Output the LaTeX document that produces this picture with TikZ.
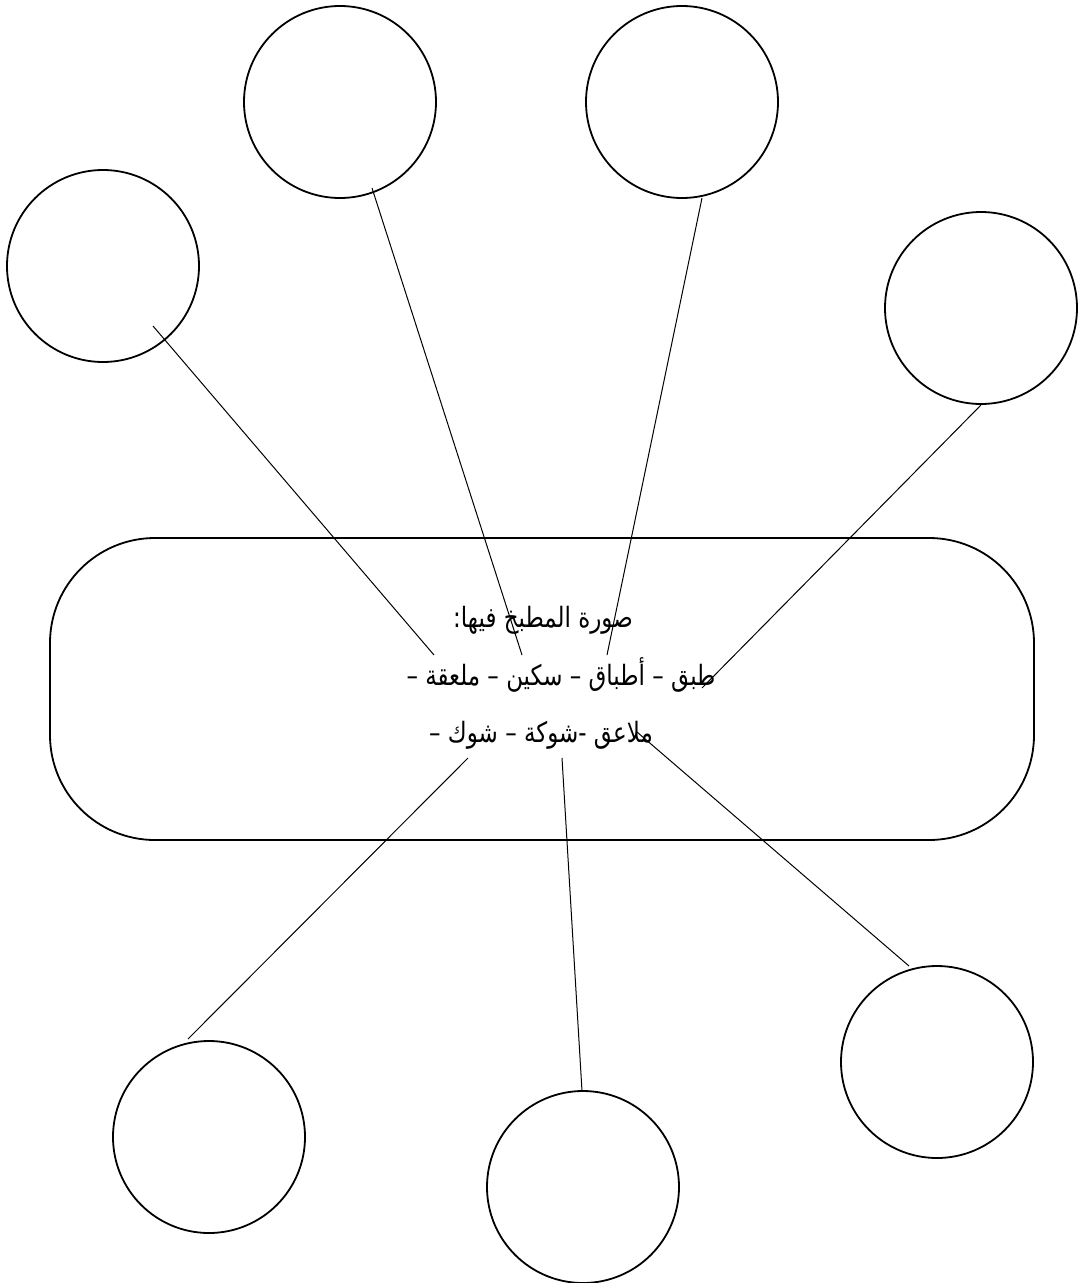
\documentclass[tikz,border=0pt]{standalone}
\usepackage{fontspec}
\usepackage{graphicx}
\TeXXeTstate=1
\newfontfamily\arabicfont[Script=Arabic]{DejaVu Sans}
\newcommand{\artext}[1]{\scalebox{0.82}[1]{\arabicfont\fontsize{28}{32}\selectfont\beginR #1\endR}}
\begin{document}
\begin{tikzpicture}[x=1pt,y=-1pt,
  bubble/.style={circle,draw,line width=1.8pt,minimum size=192pt,inner sep=0pt},
  link/.style={line width=1pt},
  txt/.style={anchor=base,inner sep=0pt}]
\useasboundingbox (0,0) rectangle (1081,1283);
\node[draw,line width=1.8pt,rounded corners=105pt,minimum width=984pt,minimum height=302pt,inner sep=0pt] (box) at (542,689) {};
\node[bubble] (c1) at (103,266) {};
\node[bubble] (c2) at (340,102) {};
\node[bubble] (c3) at (682,102) {};
\node[bubble] (c4) at (981,308) {};
\node[bubble] (c5) at (209,1137) {};
\node[bubble] (c6) at (583,1187) {};
\node[bubble] (c7) at (937,1062) {};
\node[txt] (t1) at (543,627) {\artext{صورة المطبخ فيها:}};
\node[txt] (t2) at (561,685) {\artext{طبق – أطباق – سكين – ملعقة –}};
\node[txt] (t3) at (541,742) {\artext{ملاعق -شوكة – شوك –}};
\coordinate (a1) at (153,326); \coordinate (b1) at (434,655);
\coordinate (a2) at (372,188); \coordinate (b2) at (522,655);
\coordinate (a3) at (702,198); \coordinate (b3) at (607,655);
\coordinate (a4) at (981,405); \coordinate (b4) at (702,688);
\coordinate (a5) at (188,1039); \coordinate (b5) at (468,758);
\coordinate (a6) at (582,1091); \coordinate (b6) at (562,758);
\coordinate (a7) at (909,966); \coordinate (b7) at (637,732);
\foreach \i in {1,...,7} { \draw[link] (a\i) -- (b\i); }
\end{tikzpicture}
\end{document}
